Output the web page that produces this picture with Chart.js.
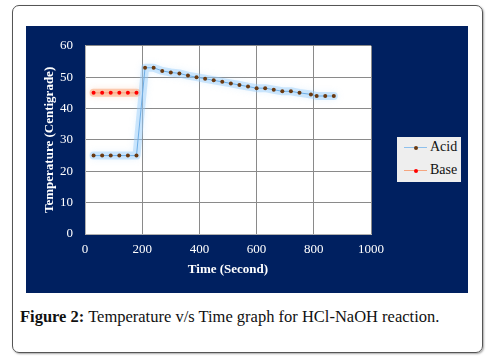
<!DOCTYPE html>
<html>
<head>
<meta charset="utf-8">
<script src="https://cdn.jsdelivr.net/npm/chart.js@4.4.1/dist/chart.umd.min.js"></script>
<style>
  body { margin: 0; background: #fff; }
  #frame {
    position: absolute; left: 12px; top: 5px; width: 469px; height: 346px;
    border: 1.5px solid #555; border-radius: 7px;
    box-shadow: 1px 1px 2px rgba(0,0,0,0.35);
  }
  #panel {
    position: absolute; left: 26px; top: 26px; width: 442px; height: 267px;
    background: #002060;
  }
  #legend {
    position: absolute; left: 397px; top: 137px; width: 64px; height: 45px;
    background: #eeeeee; font-family: "Liberation Serif", serif; font-size: 14px; color: #111;
  }
  .item { position: absolute; left: 7px; height: 16px; width: 60px; }
  .item .ln { position: absolute; left: 0; top: 8px; width: 23px; height: 1px; }
  .item .dot { position: absolute; left: 10px; top: 6.5px; width: 4px; height: 4px; border-radius: 2px; }
  .item span { position: absolute; left: 26px; top: 0; line-height: 16px; }
  #caption {
    position: absolute; left: 20px; top: 307px;
    font-family: "Liberation Serif", serif; font-size: 16.5px; color: #111;
  }
</style>
</head>
<body>
<div id="frame"></div>
<div id="panel"><canvas id="tempChart" width="442" height="267"></canvas></div>
<div id="legend">
  <div class="item" style="top:2px"><div class="ln" style="background:#8ec0ec"></div><div class="dot" style="background:#6b3a10"></div><span>Acid</span></div>
  <div class="item" style="top:25px"><div class="ln" style="background:#f5a57f"></div><div class="dot" style="background:#ff0000"></div><span>Base</span></div>
</div>
<div id="caption"><b>Figure 2:</b> Temperature v/s Time graph for HCl-NaOH reaction.</div>

<script>
const acidTime = [30, 60, 90, 120, 150, 180, 210, 240, 270, 300, 330, 360, 390, 420, 450, 480,
  510, 540, 570, 600, 630, 660, 690, 720, 750, 790, 810, 840, 870];
const acidTemp = [25, 25, 25, 25, 25, 25, 53, 53, 52, 51.5, 51.2, 50.5, 50, 49.5, 49, 48.5,
  48, 47.5, 47, 46.5, 46.5, 46, 45.5, 45.5, 45, 44.5, 44, 44, 44];
const baseTime = [30, 60, 90, 120, 150, 180];
const baseTemp = [45, 45, 45, 45, 45, 45];
const xTicks = [0, 200, 400, 600, 800, 1000];
const yTicks = [0, 10, 20, 30, 40, 50, 60];

const toPoints = (xs, ys) => xs.map((x, i) => ({ x: x, y: ys[i] }));

// white plot area on the navy panel
const plotBg = {
  id: "plotBg",
  beforeDraw(chart) {
    const { ctx, chartArea: a } = chart;
    ctx.save();
    ctx.fillStyle = "#ffffff";
    ctx.fillRect(a.left, a.top, a.right - a.left, a.bottom - a.top);
    ctx.restore();
  }
};

// soft glow under the series lines
const glow = {
  id: "glow",
  beforeDatasetDraw(chart, args) {
    const ds = chart.data.datasets[args.index];
    if (!ds.glow) return;
    chart.ctx.save();
    chart.ctx.shadowColor = ds.borderColor;
    chart.ctx.shadowBlur = 6;
  },
  afterDatasetDraw(chart, args) {
    const ds = chart.data.datasets[args.index];
    if (!ds.glow) return;
    chart.ctx.restore();
  }
};

const serif = "'Liberation Serif', 'Times New Roman', serif";

new Chart(document.getElementById("tempChart"), {
  type: "line",
  data: {
    datasets: [
      {
        label: "acidGlow", glow: true, order: 5,
        data: toPoints(acidTime, acidTemp),
        borderColor: "rgba(150, 205, 250, 0.45)", borderWidth: 8,
        pointRadius: 0, borderJoinStyle: "round", borderCapStyle: "round"
      },
      {
        label: "baseGlow", glow: true, order: 5,
        data: toPoints(baseTime, baseTemp),
        borderColor: "rgba(250, 160, 110, 0.5)", borderWidth: 8,
        pointRadius: 0, borderJoinStyle: "round", borderCapStyle: "round"
      },
      {
        label: "Acid", order: 1,
        data: toPoints(acidTime, acidTemp),
        borderColor: "#6eaee6", borderWidth: 1,
        pointRadius: 2, pointBackgroundColor: "#6b3a10", pointBorderWidth: 0
      },
      {
        label: "Base", order: 1,
        data: toPoints(baseTime, baseTemp),
        borderColor: "#f5a57f", borderWidth: 1,
        pointRadius: 2, pointBackgroundColor: "#ff0000", pointBorderWidth: 0
      }
    ]
  },
  options: {
    responsive: false,
    devicePixelRatio: 1,
    animation: false,
    layout: { padding: { left: 0, top: 14, right: 97, bottom: 0 } },
    plugins: { legend: { display: false }, tooltip: { enabled: false } },
    scales: {
      x: {
        type: "linear", min: 0, max: 1000,
        afterBuildTicks: (s) => { s.ticks = xTicks.map((v) => ({ value: v })); },
        afterFit: (s) => { s.height = 59; },
        ticks: {
          color: "#ffffff", font: { family: serif, size: 13 }, padding: 8, maxRotation: 0,
          callback: (v) => String(v)
        },
        grid: { color: "#8a8a8a", drawTicks: false },
        border: { color: "#b0b0b0" },
        title: {
          display: true, text: "Time (Second)", color: "#ffffff",
          font: { family: serif, size: 13, weight: "bold" }, padding: { top: 4, bottom: 16 }
        }
      },
      y: {
        min: 0, max: 60,
        afterBuildTicks: (s) => { s.ticks = yTicks.map((v) => ({ value: v })); },
        afterFit: (s) => { s.width = 59; },
        ticks: { color: "#ffffff", font: { family: serif, size: 13 }, padding: 12 },
        grid: { color: "#8a8a8a", drawTicks: false },
        border: { color: "#b0b0b0" },
        title: {
          display: true, text: "Temperature (Centigrade)", color: "#ffffff",
          font: { family: serif, size: 13, weight: "bold" }, padding: { top: 16, bottom: 0 }
        }
      }
    }
  },
  plugins: [plotBg, glow]
});
</script>
</body>
</html>
